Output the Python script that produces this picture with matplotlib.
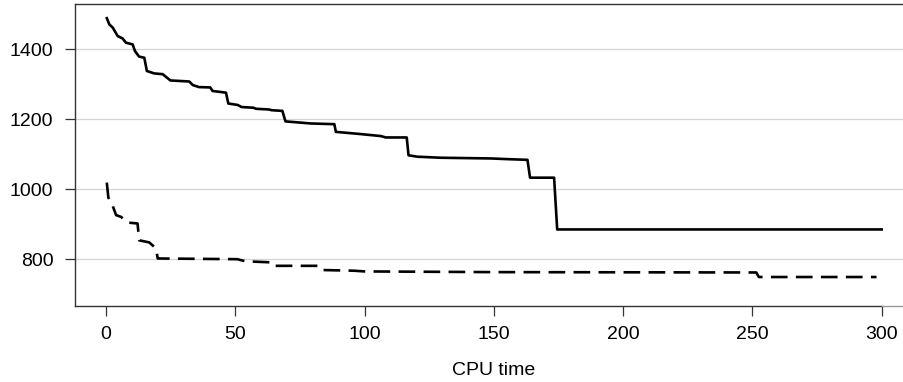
import matplotlib
matplotlib.use("Agg")
import matplotlib.pyplot as plt

plt.rcParams['font.family'] = ['Liberation Sans', 'DejaVu Sans']

# Solid series (CPU time, objective)
solid_x = [0.3, 1.3, 2.6, 4.5, 6.4, 7.7, 10.3, 11.2, 12.8, 14.8, 15.8, 18.7, 21.9, 24.9,
           32.2, 33.5, 36.0, 40.3, 41.2, 46.4, 47.3, 50.9, 52.4, 57.0, 58.0, 63.0, 64.0, 68.2, 69.4, 79.2,
           88.3, 88.9, 98.0, 106.3, 108.2, 116.3, 117.0, 120.4, 129.5, 148.8, 155.3,
           163.0, 164.0, 173.3, 174.5, 300.0]
solid_y = [1489, 1471, 1462, 1438, 1431, 1419, 1414, 1395, 1379, 1376, 1338, 1331, 1329, 1311,
           1308, 1298, 1292, 1291, 1281, 1276, 1245, 1241, 1235, 1233, 1230, 1228, 1226, 1224, 1194, 1188,
           1186, 1164, 1158, 1152, 1148, 1148, 1097, 1093, 1090, 1088, 1086,
           1084, 1033, 1033, 885, 885]

# Dashed series
dash_x = [0.3, 0.9, 2.6, 3.9, 5.8, 8.1, 12.2, 12.8, 16.7, 19.3, 20.0, 50.7, 54.0, 63.6,
          64.4, 82.5, 83.7, 96.0, 100.0, 150.0, 251.5, 252.5, 298.0]
dash_y = [1019, 976, 952, 926, 921, 905, 902, 854, 848, 831, 802, 800, 794, 791,
          781, 781, 769, 767, 765, 763, 762, 749, 749]

x_ticks = [0, 50, 100, 150, 200, 250, 300]
y_ticks = [800, 1000, 1200, 1400]
x_label = "CPU time"

W, H = 904, 382
fig = plt.figure(figsize=(W / 100, H / 100), dpi=100)
left, right, top, bottom = 75, 912.7, 3.5, 305.7
ax = fig.add_axes([left / W, 1 - bottom / H, (right - left) / W, (bottom - top) / H])

ax.set_xlim(-12, 312)
ax.set_ylim(667, 1531)

for yt in y_ticks:
    ax.axhline(yt, color='#d4d4d4', lw=0.9, zorder=0)

lw = 1.9
ax.plot(solid_x, solid_y, color='black', lw=lw)
ax.plot(dash_x, dash_y, color='black', lw=lw, linestyle=(0, (12 / lw, 6 / lw)))

ax.set_xticks(x_ticks)
ax.set_yticks(y_ticks)
ax.set_xticklabels([str(v) for v in x_ticks])
ax.set_yticklabels([str(v) for v in y_ticks])
ax.tick_params(axis='both', direction='out', length=7.5, width=0.9, colors='#333333',
               labelcolor='black', labelsize=14, pad=7)
ax.tick_params(axis='y', pad=8)
ax.set_xlabel(x_label, fontsize=14, labelpad=14)

for s in ['top', 'left', 'bottom']:
    ax.spines[s].set_color('#333333')
    ax.spines[s].set_linewidth(1.0)
ax.spines['right'].set_color('#888888')
ax.spines['bottom'].set_bounds(-12, 300)
ax.plot([300, 312], [667, 667], color='#999999', lw=1.0, clip_on=False, zorder=5)

fig.savefig("out.png", dpi=100)
